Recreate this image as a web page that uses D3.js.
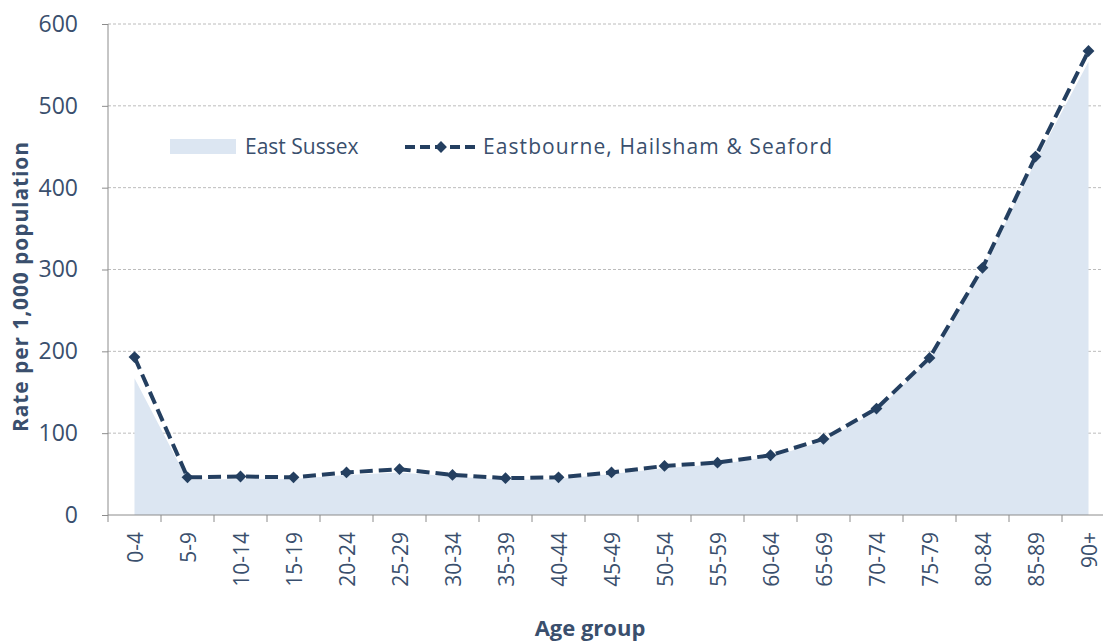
<!DOCTYPE html>
<html>
<head>
<meta charset="utf-8">
<script src="https://cdn.jsdelivr.net/npm/d3@7"></script>
<style>
  body { margin: 0; background: #fff; }
  text { font-family: "Open Sans", sans-serif; fill: #3a4f6d; }
</style>
</head>
<body>
<svg id="chart" width="1103" height="642"></svg>
<script>
// age bands along the bottom
var ageGroups = ["0-4", "5-9", "10-14", "15-19", "20-24", "25-29", "30-34", "35-39", "40-44",
  "45-49", "50-54", "55-59", "60-64", "65-69", "70-74", "75-79", "80-84", "85-89", "90+"];

// East Sussex (area)
var eastSussex = [167, 43, 44, 44, 49, 52, 47, 43, 44, 50, 57, 62, 71, 90, 127, 190, 300, 432, 554];

// Eastbourne, Hailsham & Seaford (dashed line)
var eastbourne = [193, 46, 47, 46, 52, 56, 49, 45, 46, 52, 60, 64, 73, 93, 130, 192, 302, 438, 567];

var yTicks = [0, 100, 200, 300, 400, 500, 600];

var svg = d3.select("#chart");
var plotLeft = 108, plotTop = 24, plotBottom = 515, bandW = 53;

var x = d3.scaleBand().domain(ageGroups)
  .range([plotLeft, plotLeft + bandW * ageGroups.length]).paddingInner(0).paddingOuter(0);
var y = d3.scaleLinear().domain([0, 600]).range([plotBottom, plotTop]);
var cx = function (d, i) { return x(ageGroups[i]) + x.bandwidth() / 2; };

// square turned 45deg, like the excel diamond marker
var diamond = d3.symbol().type(d3.symbolSquare).size(70);

// gridlines
svg.append("g").selectAll("line").data(yTicks.slice(1)).enter().append("line")
  .attr("x1", plotLeft).attr("x2", 1103)
  .attr("y1", function (d) { return y(d); }).attr("y2", function (d) { return y(d); })
  .attr("stroke", "#bcbcbc").attr("stroke-width", 1).attr("stroke-dasharray", "3,2");

// East Sussex area
var area = d3.area().x(cx).y0(y(0)).y1(function (d) { return y(d); });
svg.append("path").datum(eastSussex).attr("d", area).attr("fill", "#dce6f2");

// axes
var yAxis = svg.append("g").attr("transform", "translate(" + plotLeft + ",0)")
  .call(d3.axisLeft(y).tickValues(yTicks).tickSize(6).tickPadding(24));
yAxis.select(".domain").attr("stroke", "#8c8c8c").attr("d", "M0," + y(600) + "V" + y(0));
yAxis.selectAll(".tick line").attr("stroke", "#8c8c8c");
yAxis.selectAll(".tick text").style("font-size", "23px").style("font-family", "'Open Sans', sans-serif")
  .attr("fill", "#3a4f6d");

var xAxis = svg.append("g").attr("transform", "translate(0," + plotBottom + ")")
  .call(d3.axisBottom(x).tickSize(0).tickPadding(0));
xAxis.select(".domain").attr("stroke", "#8c8c8c").attr("d", "M" + plotLeft + ",0H1103");
xAxis.selectAll(".tick text").remove();
// tick marks between bands
xAxis.append("g").selectAll("line").data(ageGroups).enter().append("line")
  .attr("x1", function (d) { return x(d); }).attr("x2", function (d) { return x(d); })
  .attr("y1", 0).attr("y2", 7).attr("stroke", "#8c8c8c");
xAxis.append("g").selectAll("text").data(ageGroups).enter().append("text")
  .attr("transform", function (d) {
    return "translate(" + (x(d) + x.bandwidth() / 2 + 8) + ",17) rotate(-90)";
  })
  .attr("text-anchor", "end").style("font-size", "21px").attr("fill", "#3a4f6d")
  .text(function (d) { return d; });

// Eastbourne dashed line and markers
var line = d3.line().x(cx).y(function (d) { return y(d); });
svg.append("path").datum(eastbourne).attr("d", line)
  .attr("fill", "none").attr("stroke", "#243f60").attr("stroke-width", 4)
  .attr("stroke-dasharray", "13,6");
svg.append("g").selectAll("path").data(eastbourne).enter().append("path")
  .attr("d", diamond)
  .attr("transform", function (d, i) { return "translate(" + cx(d, i) + "," + y(d) + ") rotate(45)"; })
  .attr("fill", "#243f60");

// axis titles
svg.append("text").attr("transform", "translate(28,287) rotate(-90)")
  .attr("text-anchor", "middle").style("font-size", "21px").style("font-weight", "bold")
  .attr("textLength", 290).attr("lengthAdjust", "spacing")
  .attr("fill", "#243f60").text("Rate per 1,000 population");
svg.append("text").attr("x", 590).attr("y", 636)
  .attr("text-anchor", "middle").style("font-size", "22px").style("font-weight", "bold")
  .attr("fill", "#243f60").text("Age group");

// legend
var lg = svg.append("g");
lg.append("rect").attr("x", 170).attr("y", 139).attr("width", 66).attr("height", 15).attr("fill", "#dce6f2");
lg.append("text").attr("x", 245).attr("y", 154).style("font-size", "21px").text("East Sussex");
lg.append("line").attr("x1", 405).attr("x2", 478).attr("y1", 147).attr("y2", 147)
  .attr("stroke", "#243f60").attr("stroke-width", 4).attr("stroke-dasharray", "10,5");
lg.append("path").attr("d", diamond)
  .attr("transform", "translate(441,147) rotate(45)").attr("fill", "#243f60");
lg.append("text").attr("x", 483).attr("y", 154).style("font-size", "21px")
  .attr("textLength", 349).attr("lengthAdjust", "spacing").text("Eastbourne, Hailsham & Seaford");
</script>
</body>
</html>
